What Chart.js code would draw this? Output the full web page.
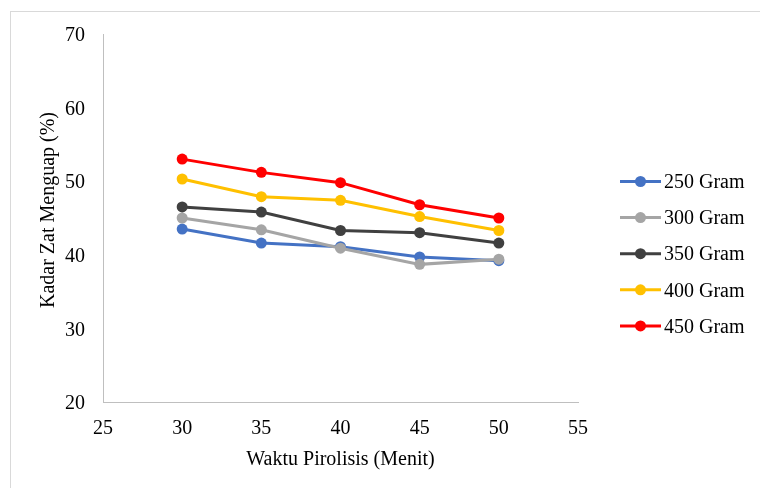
<!DOCTYPE html>
<html>
<head>
<meta charset="utf-8">
<script src="https://cdn.jsdelivr.net/npm/chart.js@4.4.1/dist/chart.umd.min.js"></script>
<style>
  html, body { margin: 0; padding: 0; background: #ffffff; }
  #wrap { width: 760px; height: 488px; position: relative; }
</style>
</head>
<body>
<div id="wrap"><canvas id="c" width="760" height="488"></canvas></div>
<script>
// ---- data ----
const minutes = [30, 35, 40, 45, 50];
const seriesLabels = ['250 Gram', '300 Gram', '350 Gram', '400 Gram', '450 Gram'];
const s250 = [43.5, 41.6, 41.1, 39.7, 39.2];
const s300 = [45.0, 43.4, 40.9, 38.7, 39.4];
const s350 = [46.5, 45.8, 43.3, 43.0, 41.6];
const s400 = [50.3, 47.9, 47.4, 45.2, 43.3];
const s450 = [53.0, 51.2, 49.8, 46.8, 45.0];
const xTitle = 'Waktu Pirolisis (Menit)';
const yTitle = 'Kadar Zat Menguap (%)';

const seriesValues = [s250, s300, s350, s400, s450];
const colors = ['#4472C4', '#A5A5A5', '#404040', '#FFC000', '#FF0000'];
const FONT = '"Liberation Serif", "Times New Roman", serif';

const datasets = seriesValues.map((vals, i) => ({
  label: seriesLabels[i],
  data: minutes.map((m, j) => ({ x: m, y: vals[j] })),
  borderColor: colors[i],
  backgroundColor: colors[i],
  pointBackgroundColor: colors[i],
  pointBorderColor: colors[i],
  pointRadius: 5.5,
  pointBorderWidth: 0,
  borderWidth: 3,
  tension: 0,
  order: seriesValues.length - i
}));

const frame = {
  id: 'frame',
  beforeDraw(chart) {
    const ctx = chart.ctx;
    ctx.save();
    ctx.fillStyle = '#ffffff';
    ctx.fillRect(0, 0, chart.width, chart.height);
    ctx.strokeStyle = '#D9D9D9';
    ctx.lineWidth = 1;
    ctx.strokeRect(10.5, 11.5, 900, 600);
    ctx.restore();
  }
};

const extras = {
  id: 'extras',
  afterDraw(chart) {
    const ctx = chart.ctx;
    ctx.save();
    // y axis title
    const a = chart.chartArea;
    ctx.font = '20px ' + FONT;
    ctx.fillStyle = '#000000';
    ctx.textAlign = 'center';
    ctx.textBaseline = 'middle';
    ctx.translate(49, (a.top + a.bottom) / 2 - 8);
    ctx.rotate(-Math.PI / 2);
    ctx.fillText(yTitle, 0, 0);
    ctx.restore();

    ctx.save();
    ctx.font = '20px ' + FONT;
    ctx.textBaseline = 'middle';
    ctx.textAlign = 'left';
    chart.data.datasets.forEach((ds, i) => {
      const y = 181.5 + i * 36.1;
      ctx.strokeStyle = ds.borderColor;
      ctx.lineWidth = 3;
      ctx.beginPath();
      ctx.moveTo(620, y);
      ctx.lineTo(661, y);
      ctx.stroke();
      ctx.fillStyle = ds.borderColor;
      ctx.beginPath();
      ctx.arc(640.5, y, 5.5, 0, Math.PI * 2);
      ctx.fill();
      ctx.fillStyle = '#000000';
      ctx.fillText(ds.label, 664, y + 1.5);
    });
    ctx.restore();
  }
};

new Chart(document.getElementById('c'), {
  type: 'line',
  data: { datasets },
  plugins: [frame, extras],
  options: {
    responsive: false,
    animation: false,
    devicePixelRatio: 1,
    layout: { padding: { left: 34, right: 182, top: 34, bottom: 12 } },
    plugins: { legend: { display: false }, tooltip: { enabled: false } },
    scales: {
      x: {
        type: 'linear',
        min: 25, max: 55,
        afterFit(scale) { scale.height = 74; },
        ticks: { stepSize: 5, color: '#000', padding: 15, font: { family: FONT, size: 20 } },
        grid: { display: false, drawTicks: false },
        border: { color: '#BFBFBF', width: 1 },
        title: { display: true, text: xTitle, color: '#000', font: { family: FONT, size: 20 }, padding: 4 }
      },
      y: {
        type: 'linear',
        min: 20, max: 70,
        afterFit(scale) { scale.width = 69; },
        ticks: { stepSize: 10, color: '#000', padding: 18, labelOffset: 2, font: { family: FONT, size: 20 } },
        grid: { display: false, drawTicks: false },
        border: { color: '#BFBFBF', width: 1 },
        title: { display: false }
      }
    }
  }
});
</script>
</body>
</html>
